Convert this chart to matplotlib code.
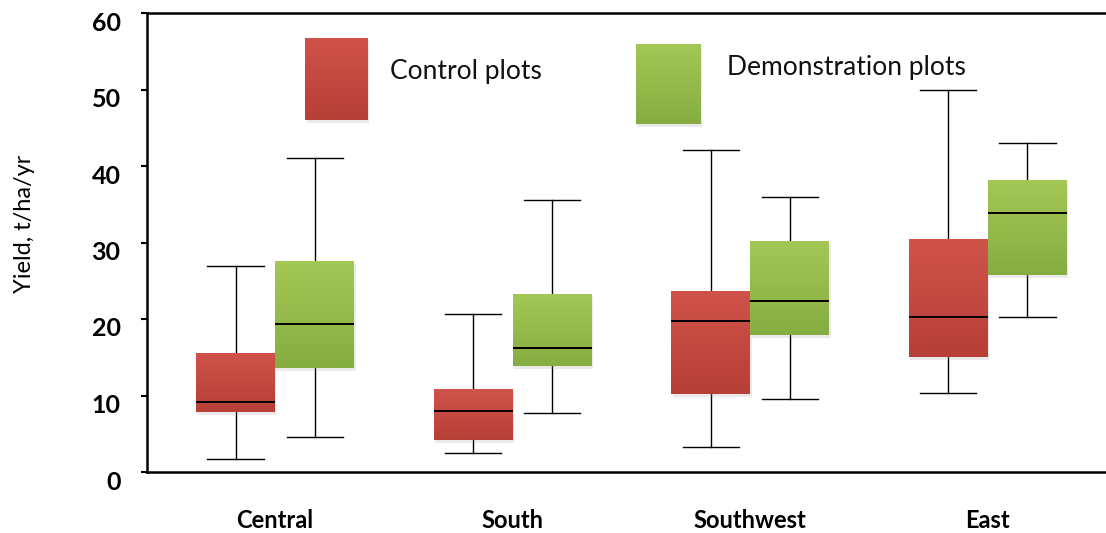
import numpy as np
import matplotlib
matplotlib.use("Agg")
import matplotlib.pyplot as plt
from matplotlib import patheffects as pe
from matplotlib.colors import LinearSegmentedColormap
from matplotlib.patches import Rectangle
from matplotlib.transforms import ScaledTranslation

plt.rcParams["font.family"] = ["Lato", "DejaVu Sans"]

regions = ["Central", "South", "Southwest", "East"]

# control plots (red)
ctrl_whislo = [1.7, 2.5, 3.3, 10.3]
ctrl_q1 = [7.8, 4.2, 10.2, 15.0]
ctrl_med = [9.1, 8.0, 19.8, 20.3]
ctrl_q3 = [15.6, 10.8, 23.7, 30.5]
ctrl_whishi = [26.9, 20.7, 42.1, 49.9]

# demonstration plots (green)
demo_whislo = [4.6, 7.7, 9.6, 20.2]
demo_q1 = [13.6, 13.8, 17.9, 25.7]
demo_med = [19.4, 16.2, 22.3, 33.9]
demo_q3 = [27.6, 23.3, 30.2, 38.2]
demo_whishi = [41.1, 35.5, 36.0, 43.0]

red_top, red_bot = "#d0534a", "#b63f38"
green_top, green_bot = "#a4c856", "#86ad41"


def make_stats(lo, q1, med, q3, hi):
    return [dict(whislo=a, q1=b, med=c, q3=d, whishi=e, fliers=[])
            for a, b, c, d, e in zip(lo, q1, med, q3, hi)]


def fill_gradient(ax, patch, top, bottom, ext, transform):
    cmap = LinearSegmentedColormap.from_list("g", [bottom, top])
    grad = np.linspace(0, 1, 64).reshape(-1, 1)
    im = ax.imshow(grad, cmap=cmap, origin="lower", aspect="auto",
                   extent=[ext[0], ext[1], ext[2], ext[3]],
                   zorder=patch.get_zorder() + 0.1, transform=transform)
    im.set_clip_path(patch)


shadow = [pe.SimplePatchShadow(offset=(1, -2), shadow_rgbFace="#999999", alpha=0.2),
          pe.Normal()]

fig = plt.figure(figsize=(11.06, 5.33), dpi=100)
ax = fig.add_axes([147 / 1106, 61 / 533, 959 / 1106, 459 / 533])

x = np.arange(1, len(regions) + 1)
w = 0.333
for stats, pos, top, bot in [
    (make_stats(ctrl_whislo, ctrl_q1, ctrl_med, ctrl_q3, ctrl_whishi), x - w / 2, red_top, red_bot),
    (make_stats(demo_whislo, demo_q1, demo_med, demo_q3, demo_whishi), x + w / 2, green_top, green_bot),
]:
    res = ax.bxp(stats, positions=pos, widths=w, capwidths=0.236,
                 patch_artist=True, showfliers=False, manage_ticks=False,
                 boxprops=dict(facecolor=bot, edgecolor="none", zorder=2),
                 medianprops=dict(color="black", lw=1.4, zorder=4),
                 whiskerprops=dict(color="black", lw=1.0, zorder=1),
                 capprops=dict(color="black", lw=1.0, zorder=1))
    for patch in res["boxes"]:
        patch.set_path_effects(shadow)
        e = patch.get_path().get_extents()
        fill_gradient(ax, patch, top, bot, (e.x0, e.x1, e.y0, e.y1), ax.transData)

# legend boxes drawn as in the original slide
legend_items = [("Control plots", red_top, red_bot, (0.165, 0.766, 0.065, 0.180), (0.253, 0.873)),
                ("Demonstration plots", green_top, green_bot, (0.510, 0.758, 0.067, 0.175), (0.605, 0.882))]
for label, top, bot, (lx, ly, lw, lh), (tx, ty) in legend_items:
    r = Rectangle((lx, ly), lw, lh, transform=ax.transAxes, facecolor=bot,
                  edgecolor="none", zorder=2)
    ax.add_patch(r)
    r.set_path_effects(shadow)
    fill_gradient(ax, r, top, bot, (lx, lx + lw, ly, ly + lh), ax.transAxes)
    ax.text(tx, ty, label, transform=ax.transAxes, fontsize=19,
            va="center", ha="left", color="#111111")

ax.set_xlim(0.461, 4.497)
ax.set_ylim(0, 59.8)
ax.set_xticks(x)
ax.set_xticklabels(regions, fontsize=17, fontweight="bold")
ax.set_yticks(np.arange(0, 61, 10))
ax.set_yticklabels([str(v) for v in range(0, 61, 10)], fontsize=18, fontweight="bold")
ax.tick_params(axis="x", length=0, pad=27)
ax.tick_params(axis="y", direction="out", length=4, width=1.5, pad=15)
for lab in ax.get_yticklabels():
    lab.set_transform(lab.get_transform() + ScaledTranslation(0, -0.08, fig.dpi_scale_trans))

ax.set_ylabel("Yield, t/ha/yr", fontsize=17)
ax.yaxis.set_label_coords(-0.117, 0.54)

for s in ["left", "bottom", "top"]:
    ax.spines[s].set_linewidth(1.8)
ax.spines["right"].set_visible(False)

fig.savefig("out.png", dpi=100)
